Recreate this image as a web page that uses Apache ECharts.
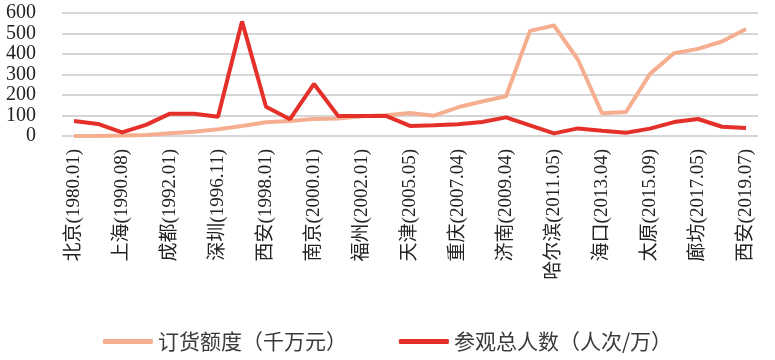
<!DOCTYPE html>
<html><head><meta charset="utf-8">
<script src="https://cdn.jsdelivr.net/npm/echarts@6/dist/echarts.min.js"></script>
<style>html,body{margin:0;padding:0;background:#fff}#c{width:775px;height:360px}</style>
</head><body><div id="c"></div>
<script>
const categories = [
  '北京(1980.01)','北京(1987.05)','上海(1990.08)','北京(1991.05)','成都(1992.01)','北京(1994.05)',
  '深圳(1996.11)','北京(1997.05)','西安(1998.01)','北京(1999.05)','南京(2000.01)','北京(2001.05)',
  '福州(2002.01)','北京(2003.05)','天津(2005.05)','北京(2006.04)','重庆(2007.04)','北京(2008.04)',
  '济南(2009.04)','北京(2010.04)','哈尔滨(2011.05)','北京(2012.04)','海口(2013.04)','北京(2014.04)',
  '太原(2015.09)','北京(2016.04)','廊坊(2017.05)','北京(2018.04)','西安(2019.07)'
];
const orderAmount = [0,0,2,5,13,21,33,49,67,73,83,85,96,101,112,99,140,168,194,513,539,372,111,117,303,404,425,461,522];
const visitors = [73,59,18,54,109,109,94,559,143,82,254,98,98,98,49,52,57,68,91,52,13,37,26,16,36,68,83,45,39];
const yTicks = [0,100,200,300,400,500,600];
const seriesNames = ['订货额度（千万元）','参观总人数（人次/万）'];

const chart = echarts.init(document.getElementById('c'));
chart.setOption({
  animation: false,
  grid: {left: 62, right: 17, top: 13, bottom: 224},
  legend: {
    top: 326, left: 'center', itemWidth: 50, itemHeight: 5, itemGap: 52, icon: 'roundRect',
    textStyle: {fontSize: 21, color: '#3a3a3a', fontFamily: 'Noto Sans CJK SC'},
    data: seriesNames
  },
  xAxis: {
    type: 'category', data: categories, boundaryGap: true,
    axisLine: {show: false}, axisTick: {show: false},
    axisLabel: {interval: 1, rotate: 90, margin: 13, fontSize: 19, color: '#222',
      fontFamily: '"Liberation Serif", "Noto Sans CJK SC"'}
  },
  yAxis: {
    type: 'value', min: yTicks[0], max: yTicks[yTicks.length-1], interval: 100,
    axisLine: {show: false}, axisTick: {show: false},
    axisLabel: {fontSize: 20, color: '#222', margin: 26, fontFamily: '"Liberation Serif"'},
    splitLine: {lineStyle: {color: '#d6d6d6', width: 2}}
  },
  series: [
    {name: seriesNames[0], type: 'line', data: orderAmount, showSymbol: false, symbol: 'none',
     lineStyle: {width: 4, color: '#F5AF90'}, itemStyle: {color: '#F5AF90'}},
    {name: seriesNames[1], type: 'line', data: visitors, showSymbol: false, symbol: 'none',
     lineStyle: {width: 4, color: '#E5302A'}, itemStyle: {color: '#E5302A'}}
  ]
});
</script></body></html>
